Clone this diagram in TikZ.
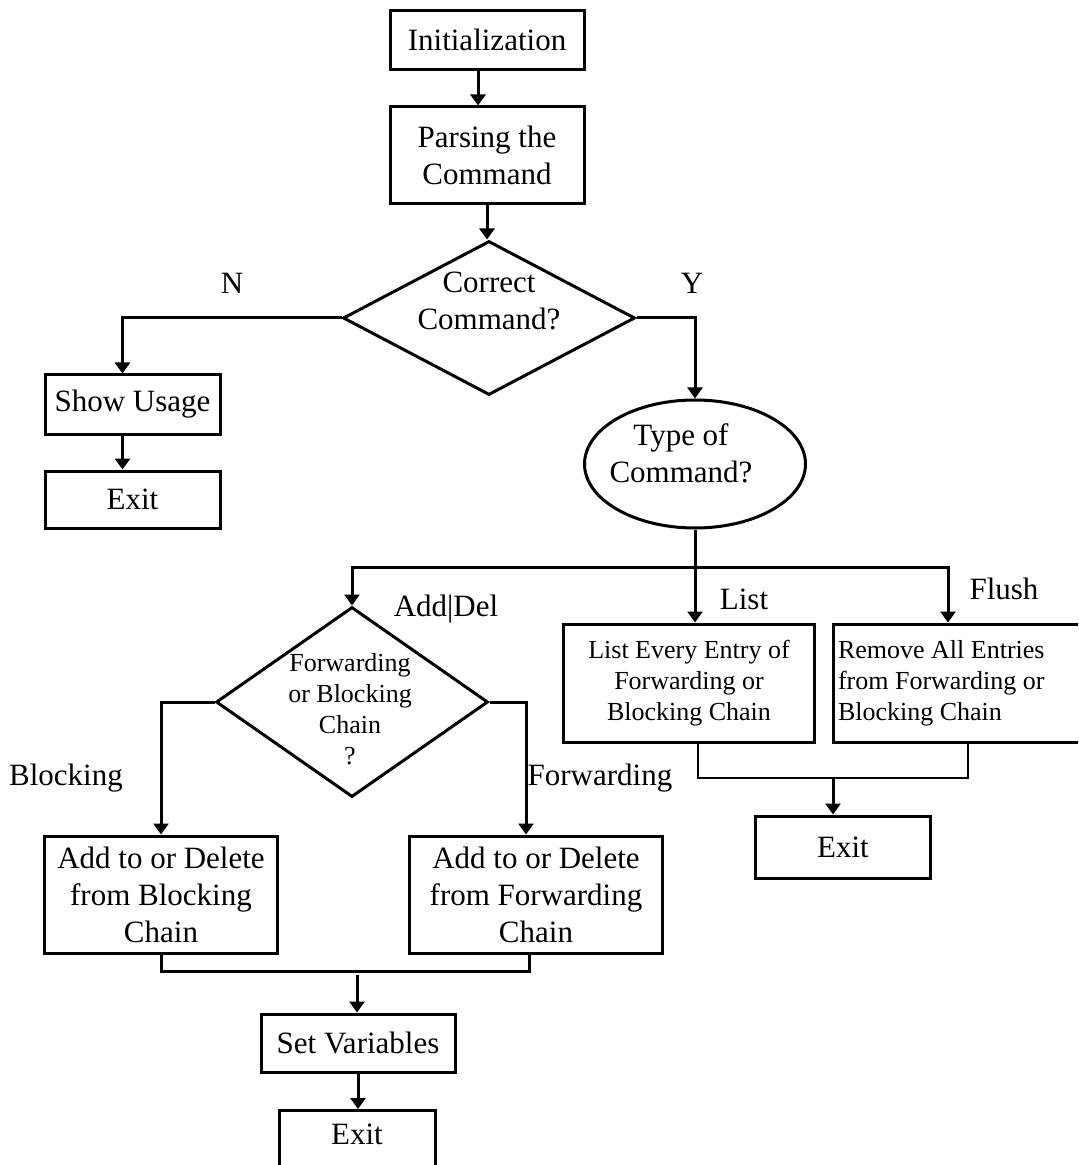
\documentclass[tikz,border=0pt]{standalone}
\usepackage{fontspec}
\setmainfont{Liberation Serif}
\usepackage{tikz}
\usetikzlibrary{shapes,arrows,positioning,calc,arrows.meta}
\newcommand{\mainsize}{\fontsize{15.5}{18.5}\selectfont}
\newcommand{\boxsize}{\fontsize{13}{15.5}\selectfont}

\begin{document}
\begin{tikzpicture}[x=0.5pt, y=-0.5pt, font=\mainsize,
    box/.style={draw, line width=1.5pt, align=center, inner sep=2pt},
    decision/.style={diamond, draw, line width=1.5pt, inner sep=0pt},
    flow/.style={line width=1.5pt, -{Triangle[length=5.5pt,width=7.5pt]}},
    joinline/.style={line width=1.5pt},
    thinjoin/.style={line width=0.6pt}]
    \clip (0,0) rectangle (1078,1165);
    \fill[white] (0,0) rectangle (1078,1165);

    \node[box, minimum width=97pt, minimum height=29.5pt] (init) at (487,40) {Initialization};
    \node[box, minimum width=97pt, minimum height=48.5pt] (parse) at (487,155.5) {Parsing the\\Command};
    \node[decision, minimum width=146pt, minimum height=77pt] (check) at (489,318) {};
    \node[align=center] (checktxt) at (489,301) {Correct\\Command?};
    \node (no) at (232,283) {N};
    \node (yes) at (692,283) {Y};
    \node[box, minimum width=87.5pt, minimum height=29.5pt] (usage) at (132.5,404.5) {Show Usage};
    \node[box, minimum width=87.5pt, minimum height=28.5pt] (exitA) at (132.5,499.5) {Exit};
    \node[ellipse, draw, line width=1.5pt, minimum width=110.5pt, minimum height=64pt, inner sep=0pt] (type) at (695,464) {};
    \node[align=center] (typetxt) at (681,453) {Type of\\Command?};

    \node[decision, minimum width=136pt, minimum height=95pt] (chain) at (352,702) {};
    \node[align=center, font=\boxsize] (chaintxt) at (350,709) {Forwarding\\or Blocking\\Chain\\?};
    \node (adddel) at (446,609) {Add|Del};
    \node (blklbl) at (66,778) {Blocking};
    \node (fwdlbl) at (600,778) {Forwarding};
    \node[box, minimum width=116.25pt, minimum height=58.5pt] (block) at (161,894.5) {Add to or Delete\\from Blocking\\Chain};
    \node[box, minimum width=126.3pt, minimum height=58.5pt] (fwd) at (536,894.5) {Add to or Delete\\from Forwarding\\Chain};
    \node[box, minimum width=97pt, minimum height=29pt] (setvar) at (358,1043) {Set Variables};
    \node[box, anchor=north, minimum width=78pt, text height=14pt, text depth=30pt, inner sep=3pt] (exitC) at (357,1109) {Exit};

    \node (listlbl) at (744,599) {List};
    \node (flushlbl) at (1004,589) {Flush};
    \node[box, minimum width=125.75pt, minimum height=59pt, font=\boxsize] (list) at (689,683) {List Every Entry of\\Forwarding or\\Blocking Chain};
    \node[box, align=flush left, text width=130pt, inner xsep=2.5pt, minimum height=59pt, font=\boxsize] (flush) at (968,683) {Remove All Entries\\from Forwarding or\\Blocking Chain};
    \node[box, minimum width=87.75pt, minimum height=31pt] (exitB) at (843,847) {Exit};

    \coordinate (split) at (695,567);
    \coordinate (flushcol) at (948,567);
    \coordinate (gather) at (833,778);
    \coordinate (merge) at (357,971);

    \draw[flow] ([xshift=-4.5pt]init.south) -- ([xshift=-4.5pt]parse.north);
    \draw[flow] (parse.south) -- (parse.south |- check.north);
    \draw[flow] (check.west) -| ([xshift=-5pt]usage.north);
    \draw[flow] ([xshift=-5pt]usage.south) -- ([xshift=-5pt]exitA.north);
    \draw[flow] (check.east) -| (type.north);
    \draw[joinline] (type.south) -- (split);
    \draw[flow] (split) -- (split |- list.north);
    \draw[flow] (split) -| (chain.north);
    \draw[flow] (split) -- (flushcol) -- (flushcol |- flush.north);
    \draw[flow] (chain.west) -| (block.north);
    \draw[flow] (chain.east) -| ([xshift=-5pt]fwd.north);
    \draw[joinline] (block.south) |- (merge) -| ([xshift=-3.5pt]fwd.south);
    \draw[flow] ([yshift=-2pt]merge) -- (merge |- setvar.north);
    \draw[flow] (setvar.south) -- (setvar.south |- exitC.north);
    \draw[thinjoin] ([xshift=4.5pt]list.south) |- (gather) -| (flush.south);
    \draw[flow] (gather) -- (gather |- exitB.north);
\end{tikzpicture}
\end{document}
